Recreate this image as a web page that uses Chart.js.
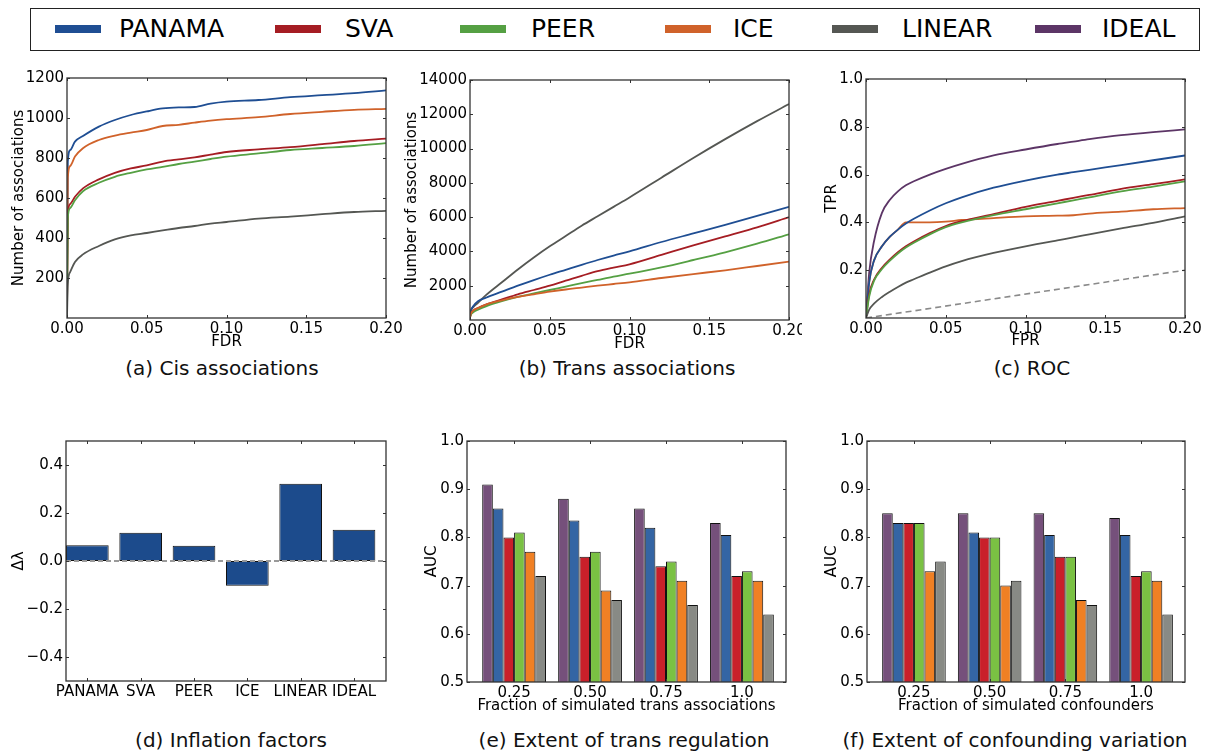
<!DOCTYPE html>
<html>
<head>
<meta charset="utf-8">
<script src="https://cdn.jsdelivr.net/npm/chart.js@4.4.1/dist/chart.umd.min.js"></script>
<style>
    html, body { margin: 0; padding: 0; background: #fff; }
    body { width: 1205px; height: 754px; position: relative; overflow: hidden; font-family: 'DejaVu Sans', sans-serif; color: #000; }
    #leyenda { position: absolute; left: 30px; top: 8px; width: 1170px; height: 43px; border: 1.5px solid #222; box-sizing: border-box; }
    .muestra { position: absolute; top: 25px; width: 46px; height: 8px; }
    .texto_leyenda { position: absolute; top: 8px; height: 42px; line-height: 42px; font-size: 25px; white-space: nowrap; }
    .pie { position: absolute; font-size: 20px; line-height: 24px; white-space: nowrap; transform: translateX(-50%); color: #111; }
</style>
</head>
<body>
<div id="leyenda"></div>
<script>
// series y colores
const series = ['PANAMA', 'SVA', 'PEER', 'ICE', 'LINEAR', 'IDEAL'];
const color_linea = { PANAMA: '#1f4e93', SVA: '#a51d23', PEER: '#55a043', ICE: '#d0622a', LINEAR: '#555753', IDEAL: '#5c3566' };
const color_barra = { IDEAL: '#75507b', PANAMA: '#3465a4', SVA: '#c9202a', PEER: '#7ac143', ICE: '#f08024', LINEAR: '#888a85' };

// (a) Cis associations
const fdr_x = [0, 0.0005, 0.002, 0.005, 0.01, 0.02, 0.03, 0.04, 0.05, 0.06, 0.07, 0.08, 0.09, 0.10, 0.12, 0.14, 0.16, 0.18, 0.20];
const cis_panama = [0, 780, 840, 882, 910, 957, 990, 1015, 1033, 1048, 1053, 1055, 1072, 1082, 1090, 1104, 1114, 1124, 1138];
const cis_sva = [0, 520, 570, 606, 648, 693, 726, 748, 763, 782, 793, 803, 817, 830, 843, 854, 869, 885, 897];
const cis_peer = [0, 500, 550, 589, 634, 676, 706, 726, 743, 756, 770, 782, 795, 807, 823, 840, 850, 860, 874];
const cis_ice = [0, 700, 760, 807, 849, 890, 912, 927, 940, 960, 966, 977, 987, 994, 1004, 1020, 1031, 1041, 1046];
const cis_linear = [0, 170, 230, 280, 318, 360, 393, 413, 425, 438, 450, 460, 472, 480, 497, 507, 519, 530, 536];
const cis_y_ticks = [200, 400, 600, 800, 1000, 1200];

// (b) Trans associations
const trans_panama = [150, 500, 800, 1100, 1300, 1650, 2000, 2330, 2640, 2930, 3220, 3500, 3760, 4000, 4550, 5050, 5550, 6080, 6600];
const trans_sva = [150, 350, 550, 700, 900, 1200, 1500, 1750, 2000, 2300, 2580, 2850, 3060, 3250, 3800, 4350, 4880, 5400, 6000];
const trans_peer = [150, 300, 450, 600, 800, 1100, 1350, 1550, 1750, 1950, 2150, 2340, 2530, 2700, 3070, 3500, 3950, 4450, 5000];
const trans_ice = [150, 350, 550, 700, 900, 1150, 1350, 1500, 1650, 1780, 1890, 2000, 2100, 2200, 2450, 2680, 2900, 3150, 3400];
const trans_linear = [150, 500, 750, 1000, 1450, 2200, 2950, 3650, 4300, 4900, 5500, 6050, 6600, 7150, 8300, 9450, 10550, 11600, 12600];
const trans_y_ticks = [2000, 4000, 6000, 8000, 10000, 12000, 14000];
const fdr_ticks = [0, 0.05, 0.10, 0.15, 0.20];

// (c) ROC
const fpr_x = [0, 0.002, 0.005, 0.01, 0.015, 0.02, 0.025, 0.03, 0.04, 0.05, 0.06, 0.08, 0.10, 0.12, 0.13, 0.14, 0.16, 0.18, 0.20];
const roc_ideal = [0, 0.19, 0.32, 0.44, 0.495, 0.53, 0.555, 0.572, 0.60, 0.624, 0.645, 0.68, 0.705, 0.728, 0.738, 0.748, 0.765, 0.778, 0.789];
const roc_panama = [0, 0.15, 0.24, 0.30, 0.34, 0.37, 0.395, 0.415, 0.45, 0.48, 0.505, 0.545, 0.575, 0.60, 0.61, 0.62, 0.64, 0.66, 0.68];
const roc_ice = [0, 0.15, 0.24, 0.30, 0.34, 0.37, 0.40, 0.40, 0.40, 0.403, 0.41, 0.418, 0.425, 0.428, 0.43, 0.437, 0.445, 0.455, 0.46];
const roc_sva = [0, 0.10, 0.16, 0.21, 0.245, 0.275, 0.30, 0.32, 0.355, 0.385, 0.405, 0.435, 0.465, 0.49, 0.503, 0.515, 0.54, 0.56, 0.58];
const roc_peer = [0, 0.09, 0.155, 0.205, 0.24, 0.27, 0.295, 0.315, 0.35, 0.38, 0.40, 0.43, 0.455, 0.48, 0.492, 0.505, 0.53, 0.55, 0.572];
const roc_linear = [0, 0.035, 0.06, 0.088, 0.11, 0.13, 0.148, 0.162, 0.19, 0.216, 0.238, 0.272, 0.30, 0.325, 0.337, 0.35, 0.375, 0.398, 0.425];
const diagonal_x = [0, 0.2];
const diagonal_y = [0, 0.2];
const roc_y_ticks = [0.2, 0.4, 0.6, 0.8, 1.0];

// (d) Inflation factors
const inflacion_nombres = ['PANAMA', 'SVA', 'PEER', 'ICE', 'LINEAR', 'IDEAL'];
const inflacion_valores = [0.066, 0.118, 0.064, -0.103, 0.322, 0.130];
const inflacion_y_ticks = [-0.4, -0.2, 0.0, 0.2, 0.4];
const cero_x = [0, 6];
const cero_y = [0, 0];

// (e) y (f) AUC por fraccion, orden de barras IDEAL..LINEAR
const orden_barras = ['IDEAL', 'PANAMA', 'SVA', 'PEER', 'ICE', 'LINEAR'];
const fraccion_labels = ['0.25', '0.50', '0.75', '1.0'];
const auc_y_ticks = [0.5, 0.6, 0.7, 0.8, 0.9, 1.0];
const trans_auc = {
    IDEAL: [0.91, 0.88, 0.86, 0.83],
    PANAMA: [0.86, 0.835, 0.82, 0.805],
    SVA: [0.80, 0.76, 0.74, 0.72],
    PEER: [0.81, 0.77, 0.75, 0.73],
    ICE: [0.77, 0.69, 0.71, 0.71],
    LINEAR: [0.72, 0.67, 0.66, 0.64]
};
const conf_auc = {
    IDEAL: [0.85, 0.85, 0.85, 0.84],
    PANAMA: [0.83, 0.81, 0.805, 0.805],
    SVA: [0.83, 0.80, 0.76, 0.72],
    PEER: [0.83, 0.80, 0.76, 0.73],
    ICE: [0.73, 0.70, 0.67, 0.71],
    LINEAR: [0.75, 0.71, 0.66, 0.64]
};

Chart.defaults.font.family = "'DejaVu Sans', sans-serif";
Chart.defaults.font.size = 15;
Chart.defaults.color = '#000';

const PAD_TOP = 12;

// marco estilo matplotlib con ticks hacia adentro
const marco_plugin = {
    id: 'marco',
    afterDraw(chart) {
        const { ctx, chartArea: a } = chart;
        const sx = chart.scales.x, sy = chart.scales.y;
        ctx.save();
        ctx.strokeStyle = '#333';
        ctx.lineWidth = 1;
        ctx.beginPath();
        sx.ticks.forEach(t => {
            const p = Math.round(sx.getPixelForValue(t.value)) + 0.5;
            ctx.moveTo(p, a.bottom); ctx.lineTo(p, a.bottom - 3);
            ctx.moveTo(p, a.top); ctx.lineTo(p, a.top + 3);
        });
        sy.ticks.forEach(t => {
            const p = Math.round(sy.getPixelForValue(t.value)) + 0.5;
            ctx.moveTo(a.left, p); ctx.lineTo(a.left + 3, p);
            ctx.moveTo(a.right, p); ctx.lineTo(a.right - 3, p);
        });
        ctx.stroke();
        ctx.lineWidth = 1.3;
        ctx.strokeRect(a.left, a.top, a.right - a.left, a.bottom - a.top);
        ctx.restore();
    }
};

function crear_canvas(caja) {
    const canvas = document.createElement('canvas');
    const izq = caja.l - caja.eje_y;
    const arriba = caja.t - PAD_TOP;
    const ancho = caja.borde - izq;
    const alto = PAD_TOP + (caja.b - caja.t) + caja.eje_x;
    canvas.width = ancho;
    canvas.height = alto;
    canvas.style.cssText = `position:absolute;left:${izq}px;top:${arriba}px;width:${ancho}px;height:${alto}px`;
    document.body.appendChild(canvas);
    return canvas;
}

function escala_x(caja, min, max, ticks, etiqueta, titulo) {
    return {
        type: 'linear', min: min, max: max, offset: false,
        grid: { display: false, drawTicks: false, offset: false },
        border: { display: false },
        ticks: { autoSkip: false, maxRotation: 0, minRotation: 0, padding: 2, color: '#000', callback: (v, i) => etiqueta(v, i) },
        title: { display: !!titulo, text: titulo || '', padding: 0, color: '#000', font: { size: 15 } },
        afterBuildTicks: s => { s.ticks = ticks.map(v => ({ value: v })); },
        afterFit: s => { s.height = caja.eje_x; s.paddingLeft = 0; s.paddingRight = 0; }
    };
}

function escala_y(caja, min, max, ticks, etiqueta, titulo) {
    return {
        type: 'linear', min: min, max: max,
        grid: { display: false, drawTicks: false },
        border: { display: false },
        ticks: { autoSkip: false, padding: 3, color: '#000', callback: v => etiqueta(v) },
        title: { display: true, text: titulo, padding: 0, color: '#000', font: { size: 15 } },
        afterBuildTicks: s => { s.ticks = ticks.map(v => ({ value: v })); },
        afterFit: s => { s.width = caja.eje_y; s.paddingTop = 0; s.paddingBottom = 0; }
    };
}

function opciones_base(caja, scales) {
    return {
        responsive: false,
        animation: false,
        devicePixelRatio: 1,
        layout: { padding: { top: PAD_TOP, right: caja.borde - caja.r, left: 0, bottom: 0 } },
        plugins: { legend: { display: false }, tooltip: { enabled: false } },
        scales: scales
    };
}

function linea(nombre, xs, ys) {
    return {
        label: nombre,
        data: xs.map((x, i) => ({ x: x, y: ys[i] })),
        borderColor: color_linea[nombre],
        borderWidth: 1.8,
        pointRadius: 0,
        cubicInterpolationMode: 'monotone',
        fill: false
    };
}

const fmt2 = v => v.toFixed(2);
const fmt1 = v => v.toFixed(1);

// (a)
const caja_a = { l: 67, t: 78, r: 386, b: 318, eje_y: 57, eje_x: 33, borde: 404 };
new Chart(crear_canvas(caja_a), {
    type: 'line',
    data: { datasets: [
        linea('LINEAR', fdr_x, cis_linear),
        linea('PEER', fdr_x, cis_peer),
        linea('SVA', fdr_x, cis_sva),
        linea('ICE', fdr_x, cis_ice),
        linea('PANAMA', fdr_x, cis_panama)
    ] },
    options: opciones_base(caja_a, {
        x: escala_x(caja_a, 0, 0.2, fdr_ticks, fmt2, 'FDR'),
        y: escala_y(caja_a, 0, 1200, cis_y_ticks, v => String(v), 'Number of associations')
    }),
    plugins: [marco_plugin]
});

// (b)
const caja_b = { l: 470, t: 80, r: 789, b: 320, eje_y: 67, eje_x: 33, borde: 802 };
new Chart(crear_canvas(caja_b), {
    type: 'line',
    data: { datasets: [
        linea('ICE', fdr_x, trans_ice),
        linea('PEER', fdr_x, trans_peer),
        linea('SVA', fdr_x, trans_sva),
        linea('PANAMA', fdr_x, trans_panama),
        linea('LINEAR', fdr_x, trans_linear)
    ] },
    options: opciones_base(caja_b, {
        x: escala_x(caja_b, 0, 0.2, fdr_ticks, fmt2, 'FDR'),
        y: escala_y(caja_b, 0, 14000, trans_y_ticks, v => String(v), 'Number of associations')
    }),
    plugins: [marco_plugin]
});

// (c)
const caja_c = { l: 866, t: 79, r: 1185, b: 318, eje_y: 43, eje_x: 32, borde: 1205 };
const diag = {
    label: 'random',
    data: diagonal_x.map((x, i) => ({ x: x, y: diagonal_y[i] })),
    borderColor: '#8a8a8a', borderWidth: 1.6, borderDash: [6, 4], pointRadius: 0, fill: false
};
new Chart(crear_canvas(caja_c), {
    type: 'line',
    data: { datasets: [
        diag,
        linea('LINEAR', fpr_x, roc_linear),
        linea('PEER', fpr_x, roc_peer),
        linea('SVA', fpr_x, roc_sva),
        linea('PANAMA', fpr_x, roc_panama),
        linea('ICE', fpr_x, roc_ice),
        linea('IDEAL', fpr_x, roc_ideal)
    ] },
    options: opciones_base(caja_c, {
        x: escala_x(caja_c, 0, 0.2, fdr_ticks, fmt2, 'FPR'),
        y: escala_y(caja_c, 0, 1.0, roc_y_ticks, fmt1, 'TPR')
    }),
    plugins: [marco_plugin]
});

// (d)
const caja_d = { l: 66, t: 441, r: 386, b: 681, eje_y: 56, eje_x: 22, borde: 400 };
const inflacion_pos = inflacion_nombres.map((n, i) => i + 0.4);
new Chart(crear_canvas(caja_d), {
    type: 'bar',
    data: { datasets: [
        {
            type: 'line', order: 0, label: 'cero',
            data: cero_x.map((x, i) => ({ x: x, y: cero_y[i] })),
            borderColor: '#9a9a9a', borderWidth: 2, borderDash: [5, 3], pointRadius: 0, fill: false
        },
        {
            order: 1, label: 'inflation',
            data: inflacion_pos.map((x, i) => ({ x: x, y: inflacion_valores[i] })),
            backgroundColor: '#1c4b8c', borderColor: '#111', borderWidth: 1, borderSkipped: false,
            barPercentage: 0.8, categoryPercentage: 1
        }
    ] },
    options: opciones_base(caja_d, {
        x: escala_x(caja_d, 0, 6, inflacion_pos, (v, i) => inflacion_nombres[i], null),
        y: escala_y(caja_d, -0.5, 0.5, inflacion_y_ticks, v => (v < 0 ? '\u2212' : '') + Math.abs(v).toFixed(1), '\u0394\u03bb')
    }),
    plugins: [marco_plugin]
});

// (e) y (f)
const fraccion_pos = fraccion_labels.map((n, i) => i + 0.42);
function barras_auc(tabla) {
    return orden_barras.map(nombre => ({
        label: nombre,
        data: fraccion_pos.map((x, i) => ({ x: x, y: tabla[nombre][i] })),
        backgroundColor: color_barra[nombre],
        borderColor: '#111',
        borderWidth: 1,
        borderSkipped: false,
        barPercentage: 1,
        categoryPercentage: 0.84
    }));
}

const caja_e = { l: 467, t: 441, r: 786, b: 682, eje_y: 44, eje_x: 33, borde: 800 };
new Chart(crear_canvas(caja_e), {
    type: 'bar',
    data: { datasets: barras_auc(trans_auc) },
    options: opciones_base(caja_e, {
        x: escala_x(caja_e, -0.2, 4.0, fraccion_pos, (v, i) => fraccion_labels[i], 'Fraction of simulated trans associations'),
        y: escala_y(caja_e, 0.5, 1.0, auc_y_ticks, fmt1, 'AUC')
    }),
    plugins: [marco_plugin]
});

const caja_f = { l: 867, t: 441, r: 1185, b: 682, eje_y: 44, eje_x: 33, borde: 1205 };
new Chart(crear_canvas(caja_f), {
    type: 'bar',
    data: { datasets: barras_auc(conf_auc) },
    options: opciones_base(caja_f, {
        x: escala_x(caja_f, -0.2, 4.0, fraccion_pos, (v, i) => fraccion_labels[i], 'Fraction of simulated confounders'),
        y: escala_y(caja_f, 0.5, 1.0, auc_y_ticks, fmt1, 'AUC')
    }),
    plugins: [marco_plugin]
});

// leyenda compartida
const leyenda_pos = { PANAMA: [55, 119], SVA: [275, 345], PEER: [460, 531], ICE: [665, 733], LINEAR: [832, 902], IDEAL: [1035, 1102] };
series.forEach(nombre => {
    const m = document.createElement('div');
    m.className = 'muestra';
    m.style.left = leyenda_pos[nombre][0] + 'px';
    m.style.background = color_linea[nombre];
    document.body.appendChild(m);
    const t = document.createElement('div');
    t.className = 'texto_leyenda';
    t.style.left = leyenda_pos[nombre][1] + 'px';
    t.textContent = nombre;
    document.body.appendChild(t);
});

// pies de figura
const pies = [
    ['(a) Cis associations', 222, 356],
    ['(b) Trans associations', 627, 356],
    ['(c) ROC', 1032, 356],
    ['(d) Inflation factors', 231, 728],
    ['(e) Extent of trans regulation', 624, 728],
    ['(f) Extent of confounding variation', 1015, 728]
];
pies.forEach(([texto, x, y]) => {
    const d = document.createElement('div');
    d.className = 'pie';
    d.style.left = x + 'px';
    d.style.top = y + 'px';
    d.textContent = texto;
    document.body.appendChild(d);
});
</script>
</body>
</html>
